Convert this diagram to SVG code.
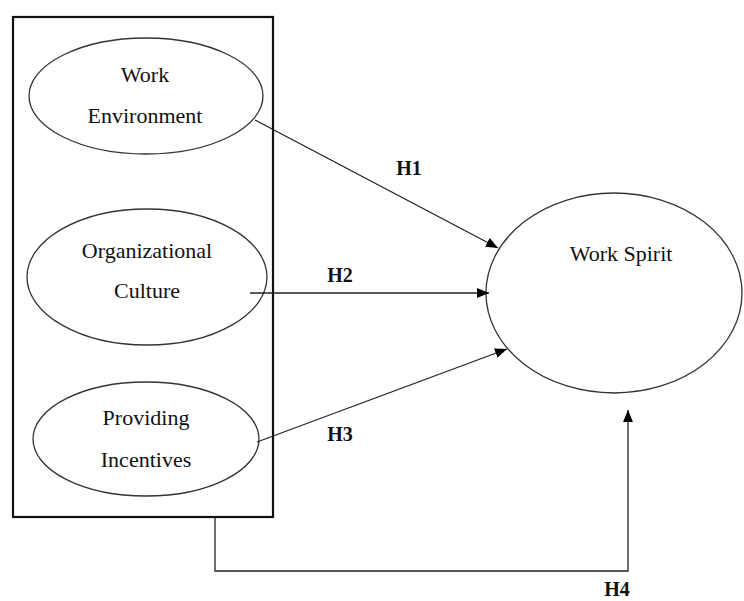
<svg xmlns="http://www.w3.org/2000/svg" width="744" height="601" viewBox="0 0 744 601">
<style>
.n{fill:#fff;stroke:#333;stroke-width:1.3}
.t{font-family:"Liberation Serif","Times New Roman",serif;font-size:22px;fill:#111;text-anchor:middle}
.h{font-family:"Liberation Serif","Times New Roman",serif;font-size:20px;font-weight:bold;fill:#111;text-anchor:middle}
.c{fill:none;stroke:#222;stroke-width:1.3}
</style>
<defs>
<marker id="ah" viewBox="0 0 12 10" refX="12" refY="5" markerWidth="12" markerHeight="10" markerUnits="userSpaceOnUse" orient="auto">
<path d="M0,0 L12,5 L0,10 Z" fill="#000"/>
</marker>
</defs>
<rect x="13" y="17" width="260" height="500" fill="none" stroke="#111" stroke-width="2.2"/>
<g id="work-environment">
<ellipse class="n" cx="146" cy="96" rx="117" ry="58"/>
<text class="t" x="145" y="82">Work</text>
<text class="t" x="145" y="123">Environment</text>
</g>
<g id="organizational-culture">
<ellipse class="n" cx="147" cy="277" rx="120" ry="68"/>
<text class="t" x="147" y="258">Organizational</text>
<text class="t" x="147" y="298">Culture</text>
</g>
<g id="providing-incentives">
<ellipse class="n" cx="146" cy="439" rx="113" ry="57"/>
<text class="t" x="146" y="425">Providing</text>
<text class="t" x="146" y="467">Incentives</text>
</g>
<g id="work-spirit">
<ellipse class="n" cx="614" cy="293" rx="128" ry="100"/>
<text class="t" x="621" y="261">Work Spirit</text>
</g>
<g id="connectors">
<line class="c" x1="255" y1="120" x2="498" y2="248" marker-end="url(#ah)"/>
<line class="c" x1="250" y1="293" x2="489" y2="293" marker-end="url(#ah)"/>
<line class="c" x1="257" y1="442" x2="507" y2="349" marker-end="url(#ah)"/>
<polyline class="c" points="215,517 215,571 628,571 628,410" marker-end="url(#ah)"/>
<text class="h" x="409" y="175">H1</text>
<text class="h" x="340" y="282">H2</text>
<text class="h" x="340" y="441">H3</text>
<text class="h" x="617" y="596">H4</text>
</g>
</svg>
